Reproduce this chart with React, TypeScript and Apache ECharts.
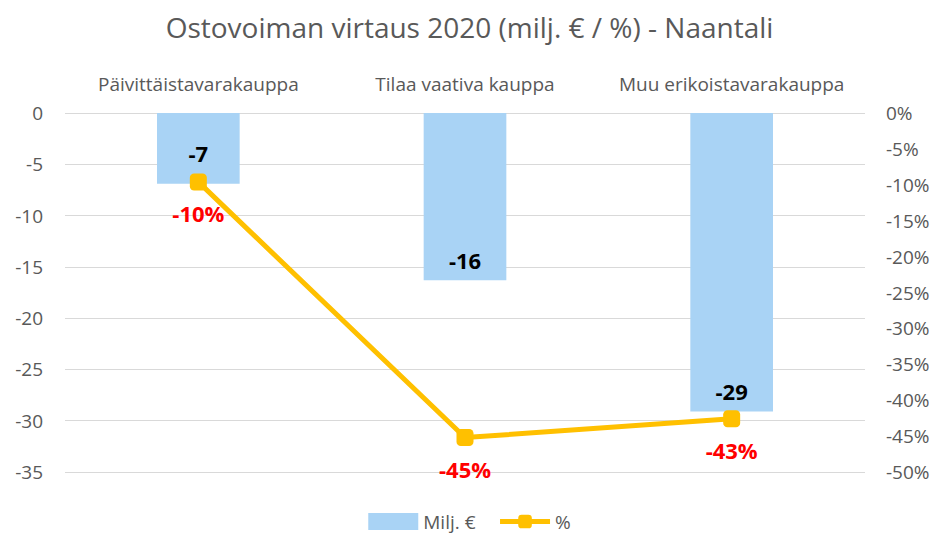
import React, { useEffect, useRef } from "react";
import * as echarts from "echarts";

const categories = ["Päivittäistavarakauppa", "Tilaa vaativa kauppa", "Muu erikoistavarakauppa"];
const milj = [-6.9, -16.3, -29.1];
const pct = [-0.096, -0.452, -0.426];
const titleText = "Ostovoiman virtaus 2020 (milj. € / %) - Naantali";

export default function App() {
  const ref = useRef<HTMLDivElement>(null);
  useEffect(() => {
    const chart = echarts.init(ref.current!, null, { renderer: "svg" });
    const font = "Open Sans";
    const grey = "#595959";
    chart.setOption({
      animation: false,
      backgroundColor: "#ffffff",
      textStyle: { fontFamily: font },
      title: {
        text: titleText,
        left: "center",
        top: 8,
        textStyle: { fontFamily: font, fontSize: 28, fontWeight: "normal", color: grey },
      },
      grid: { left: 65, right: 74, top: 113, bottom: 64 },
      legend: {
        bottom: 0,
        left: "center",
        itemGap: 22,
        textStyle: { fontFamily: font, fontSize: 19, color: grey },
        data: [
          { name: "Milj. €", icon: "rect", itemStyle: { color: "#a9d3f5" } },
          { name: "%", lineStyle: { width: 5, color: "#ffc000" } },
        ],
        itemWidth: 50,
        itemHeight: 17,
      },
      xAxis: {
        type: "category",
        data: categories,
        position: "top",
        axisLine: { show: false },
        axisTick: { show: false },
        axisLabel: { fontFamily: font, fontSize: 19, color: grey, margin: 20, interval: 0 },
      },
      yAxis: [
        {
          type: "value",
          min: -35,
          max: 0,
          interval: 5,
          axisLine: { show: false },
          axisTick: { show: false },
          splitLine: { lineStyle: { color: "#d9d9d9", width: 1 } },
          axisLabel: { fontFamily: font, fontSize: 19, color: grey, margin: 22 },
        },
        {
          type: "value",
          min: -0.5,
          max: 0,
          interval: 0.05,
          position: "right",
          axisLine: { show: false },
          axisTick: { show: false },
          splitLine: { show: false },
          axisLabel: {
            fontFamily: font,
            fontSize: 19,
            color: grey,
            margin: 21,
            formatter: (v: number) => Math.round(v * 100) + "%",
          },
        },
      ],
      series: [
        {
          name: "Milj. €",
          type: "bar",
          data: milj.map((v, i) => (i === 0 ? { value: v, label: { distance: 20 } } : v)),
          barWidth: "31%",
          itemStyle: { color: "#a9d3f5" },
          label: {
            show: true,
            position: "insideBottom",
            distance: 9,
            fontFamily: font,
            fontSize: 22,
            fontWeight: "bold",
            color: "#000000",
            formatter: (p: any) => String(Math.round(p.value)),
          },
        },
        {
          name: "%",
          type: "line",
          yAxisIndex: 1,
          data: pct,
          symbol: "roundRect",
          symbolSize: 17,
          lineStyle: { color: "#ffc000", width: 5 },
          itemStyle: { color: "#ffc000" },
          label: {
            show: true,
            position: "bottom",
            distance: 12,
            fontFamily: font,
            fontSize: 22,
            fontWeight: "bold",
            color: "#ff0000",
            formatter: (p: any) => Math.round(p.value * 100) + "%",
          },
        },
      ],
    });
    return () => chart.dispose();
  }, []);
  return <div ref={ref} style={{ width: 939, height: 536, position: "absolute", left: 0, top: 0 }} />;
}
